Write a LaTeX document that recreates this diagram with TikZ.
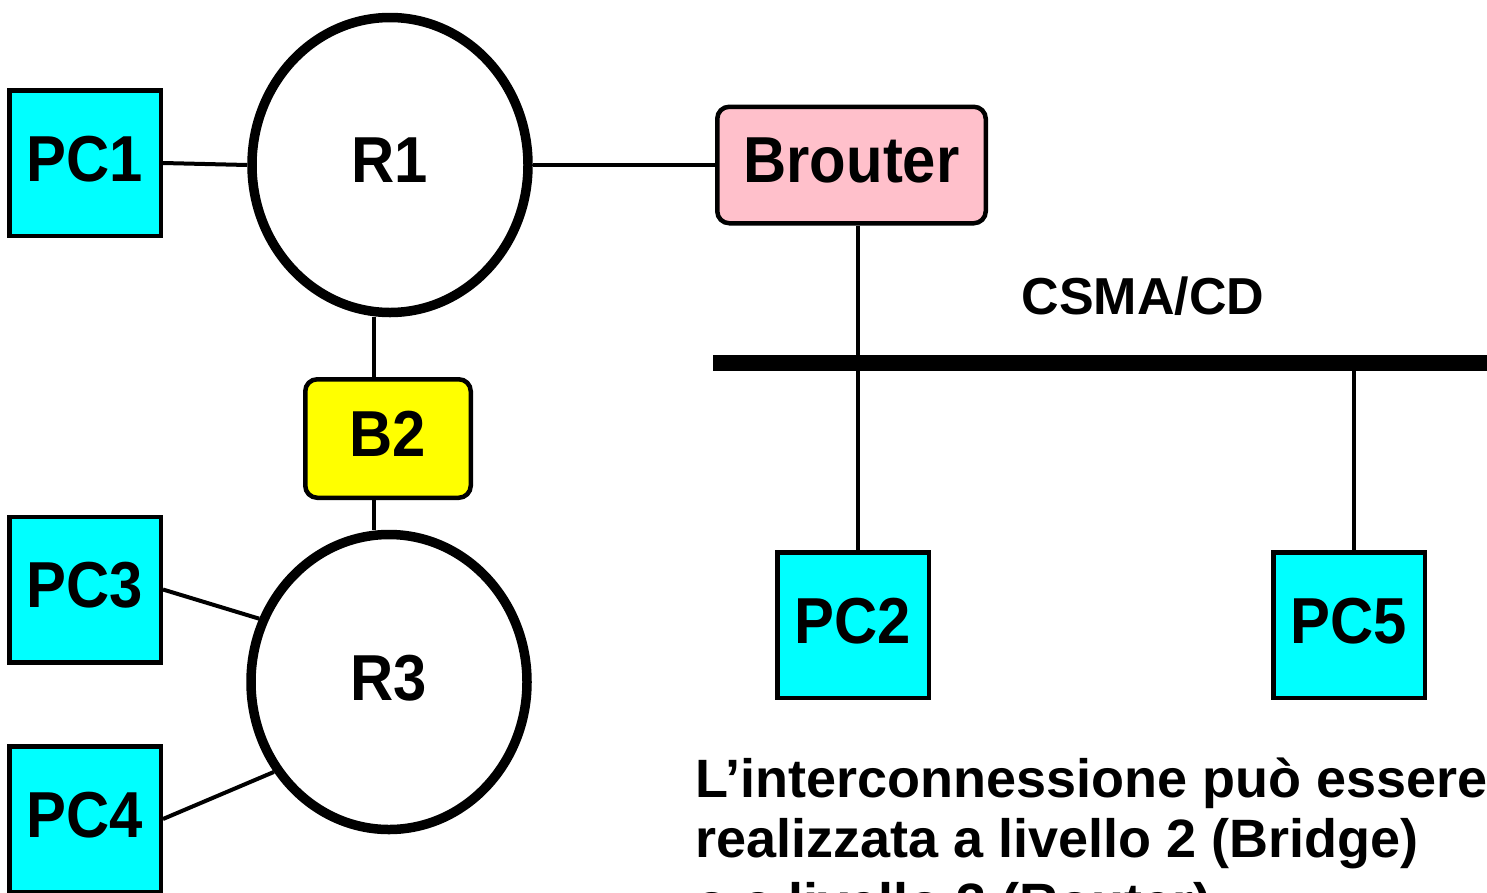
\documentclass[tikz,border=0pt]{standalone}
\usepackage{fontspec}
\setmainfont{Liberation Sans}
\newfontfamily\nodefont{Liberation Sans}[FakeStretch=0.92]
\usetikzlibrary{shapes.geometric}

\definecolor{hostcyan}{RGB}{0,255,255}
\definecolor{brouterpink}{RGB}{255,192,203}
\definecolor{bridgeyellow}{RGB}{255,255,0}

\tikzset{
  netlabel/.style={font=\nodefont\bfseries\fontsize{65}{70}\selectfont,text depth=9pt,inner sep=0pt},
  pcbox/.style={netlabel,draw,line width=4.5pt,fill=hostcyan,
    minimum width=151.5pt,minimum height=145.5pt},
  ring/.style={netlabel,ellipse,draw,line width=9.5pt,fill=white,
    minimum width=276pt,minimum height=295pt},
  devbox/.style={netlabel,draw,line width=4.5pt,rounded corners=12pt},
  link/.style={line width=4pt},
  note/.style={font=\bfseries\fontsize{54}{60}\selectfont,inner sep=0pt,anchor=base west}
}

\begin{document}
\begin{tikzpicture}[x=1pt,y=-1pt]
    \useasboundingbox (0,0) rectangle (1487,892);
    \clip (0,0) rectangle (1487,892);

    % rings, bridge and their hosts
    \node[ring] (R1) at (390,165) {R1};
    \node[ring] (R3) at (389,682) {R3};
    \node[pcbox] (PC1) at (85,163) {PC1};
    \node[pcbox] (PC3) at (85,589.5) {PC3};
    \node[pcbox] (PC4) at (85,819) {PC4};
    \node[devbox,fill=bridgeyellow,minimum width=165.5pt,minimum height=118.5pt]
        (B2) at (388,438.5) {B2};

    % CSMA/CD segment
    \node[devbox,fill=brouterpink,minimum width=268.5pt,minimum height=116.5pt]
        (Brouter) at (851.5,165) {Brouter};
    \node[pcbox] (PC2) at (853,625) {PC2};
    \node[pcbox] (PC5) at (1349,625) {PC5};

    \coordinate (busW) at (713,363);
    \coordinate (busE) at (1500,363);
    \coordinate (tapA) at (858,363);
    \coordinate (tapB) at (1354,363);
    \coordinate (tapC) at (374,0);

    \draw[line width=16pt] (busW) -- (busE);
    \node[font=\bfseries\fontsize{52}{60}\selectfont,inner sep=0pt,anchor=base]
        (csma) at (1143,314) {CSMA/CD};

    \draw[link] (PC1.east) -- (R1.west);
    \draw[link] (R1.east) -- (Brouter.west);
    \draw[link] (R1.south -| tapC) -- (B2.north -| tapC);
    \draw[link] (B2.south -| tapC) -- (R3.north -| tapC);
    \draw[link] (PC3.east) -- (R3.154);
    \draw[link] (PC4.east) -- (R3.218.6);
    \draw[link] (Brouter.south -| tapA) -- (PC2.north -| tapA);
    \draw[link] (tapB) -- (PC5.north -| tapB);

    \node[note] (noteA) at (695,797) {L’interconnessione può essere};
    \node[note] (noteB) at (695,857) {realizzata a livello 2 (Bridge)};
    \node[note] (noteC) at (695,921) {o a livello 3 (Router)};
\end{tikzpicture}
\end{document}
